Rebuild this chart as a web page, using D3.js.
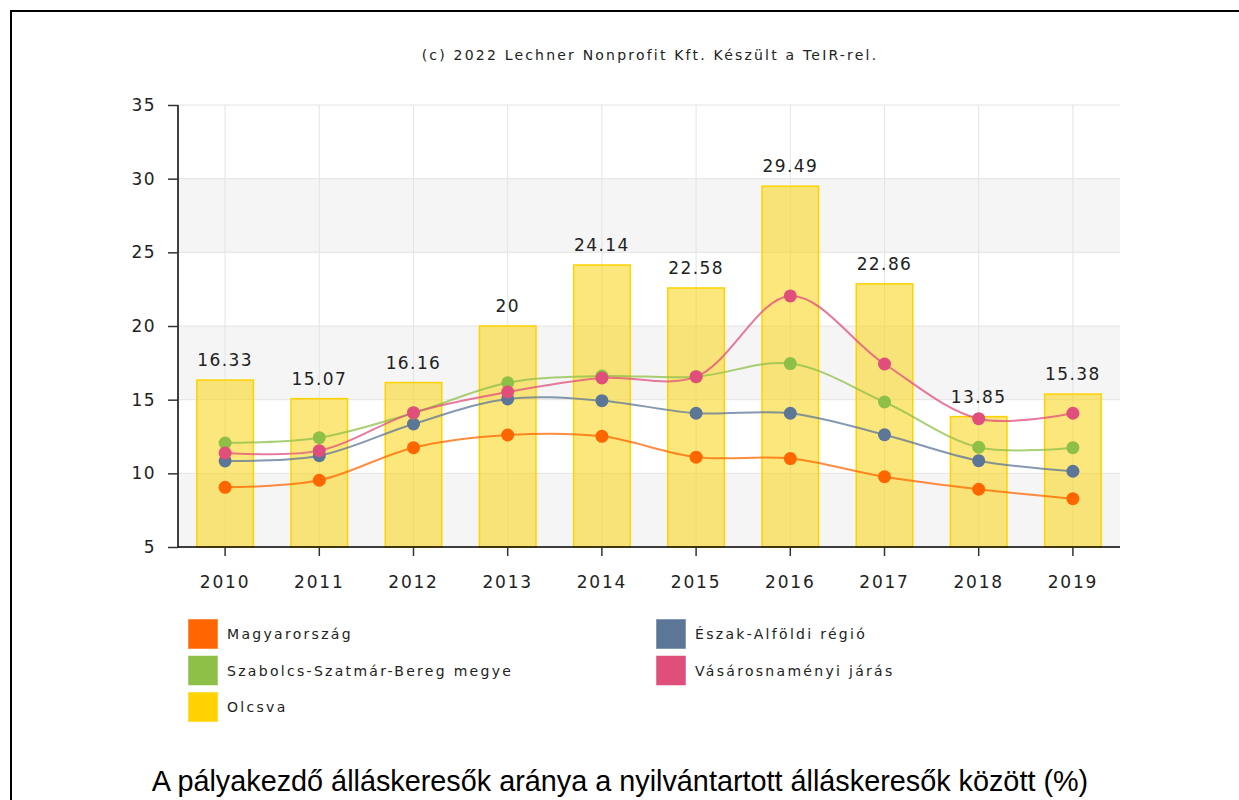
<!DOCTYPE html>
<html>
<head>
<meta charset="utf-8">
<script src="https://cdn.jsdelivr.net/npm/d3@7"></script>
<style>
  body { margin: 0; background: #fff; }
  svg text { fill: #222; }
</style>
</head>
<body>
<div id="chart"></div>
<script>
// values
var years = ["2010", "2011", "2012", "2013", "2014", "2015", "2016", "2017", "2018", "2019"];
var olcsva = [16.33, 15.07, 16.16, 20, 24.14, 22.58, 29.49, 22.86, 13.85, 15.38];
var magyarorszag = [9.05, 9.53, 11.74, 12.6, 12.51, 11.1, 11.0, 9.77, 8.92, 8.28];
var eszakAlfold = [10.84, 11.2, 13.35, 15.05, 14.93, 14.08, 14.08, 12.62, 10.86, 10.14];
var szabolcs = [12.06, 12.42, 14.1, 16.15, 16.6, 16.56, 17.45, 14.84, 11.77, 11.74];
var vasarosnameny = [11.38, 11.54, 14.12, 15.52, 16.47, 16.56, 22.04, 17.42, 13.71, 14.08];
var yTicks = [5, 10, 15, 20, 25, 30, 35];

var lineSeries = [
  { name: "Magyarország", values: magyarorszag, color: "#ff6600" },
  { name: "Észak-Alföldi régió", values: eszakAlfold, color: "#5b7697" },
  { name: "Szabolcs-Szatmár-Bereg megye", values: szabolcs, color: "#8ebf47" },
  { name: "Vásárosnaményi járás", values: vasarosnameny, color: "#e04e7c" }
];
var legendItems = [
  { name: "Magyarország", color: "#ff6600", col: 0, row: 0 },
  { name: "Észak-Alföldi régió", color: "#5b7697", col: 1, row: 0 },
  { name: "Szabolcs-Szatmár-Bereg megye", color: "#8ebf47", col: 0, row: 1 },
  { name: "Vásárosnaményi járás", color: "#e04e7c", col: 1, row: 1 },
  { name: "Olcsva", color: "#ffd200", col: 0, row: 2 }
];

var W = 1239, H = 800;
var plotLeft = 178, plotRight = 1120, plotTop = 105, plotBottom = 547;

var svg = d3.select("#chart").append("svg")
  .attr("width", W)
  .attr("height", H);

// frame
svg.append("path")
  .attr("d", `M11,${H}V11H${W}`)
  .attr("fill", "none")
  .attr("stroke", "#000")
  .attr("stroke-width", 2);

svg.append("text")
  .attr("x", 650)
  .attr("y", 60)
  .attr("text-anchor", "middle")
  .style("font-family", "DejaVu Sans")
  .style("font-size", "14px")
  .style("letter-spacing", "2.2px")
  .text("(c) 2022 Lechner Nonprofit Kft. Készült a TeIR-rel.");

var x = d3.scaleBand().domain(years).range([plotLeft, plotRight]);
var y = d3.scaleLinear().domain([5, 35]).range([plotBottom, plotTop]);

// alternating bands
var g = svg.append("g");
g.selectAll(".band")
  .data(yTicks.slice(0, -1).filter((d, i) => i % 2 == 0))
  .enter().append("rect")
  .attr("x", plotLeft)
  .attr("width", plotRight - plotLeft)
  .attr("y", d => y(d + 5))
  .attr("height", d => y(d) - y(d + 5))
  .attr("fill", "#f5f5f5");

g.selectAll(".hgrid")
  .data(yTicks)
  .enter().append("line")
  .attr("x1", plotLeft).attr("x2", plotRight)
  .attr("y1", d => y(d)).attr("y2", d => y(d))
  .attr("stroke", "#e4e4e4");

g.selectAll(".vgrid")
  .data(years)
  .enter().append("line")
  .attr("x1", d => x(d) + x.bandwidth() / 2)
  .attr("x2", d => x(d) + x.bandwidth() / 2)
  .attr("y1", plotTop).attr("y2", plotBottom)
  .attr("stroke", "#e4e4e4");

// bars
var barW = x.bandwidth() * 0.6;
svg.selectAll(".bar")
  .data(years)
  .enter().append("rect")
  .attr("x", d => x(d) + (x.bandwidth() - barW) / 2)
  .attr("width", barW)
  .attr("y", (d, i) => y(olcsva[i]))
  .attr("height", (d, i) => plotBottom - y(olcsva[i]))
  .attr("fill", "#fad51e")
  .attr("fill-opacity", 0.58)
  .attr("stroke", "#ffd200")
  .attr("stroke-width", 1.5);

svg.selectAll(".barlabel")
  .data(years)
  .enter().append("text")
  .attr("x", d => x(d) + x.bandwidth() / 2)
  .attr("y", (d, i) => y(olcsva[i]) - 14)
  .attr("text-anchor", "middle")
  .style("font-family", "DejaVu Sans")
  .style("font-size", "17px")
  .style("letter-spacing", "1.4px")
  .text((d, i) => olcsva[i]);

// axes
var yAxis = d3.axisLeft(y).tickValues(yTicks).tickSize(10).tickPadding(12);
svg.append("g")
  .attr("transform", `translate(${plotLeft},0)`)
  .call(yAxis)
  .call(a => a.select(".domain").attr("d", `M0,${plotTop}V${plotBottom}`).attr("stroke", "#000").attr("stroke-width", 1.5))
  .call(a => a.selectAll("line").attr("stroke", "#333").attr("stroke-width", 1.5))
  .call(a => a.selectAll("text")
    .style("font-family", "DejaVu Sans")
    .style("font-size", "17px")
    .style("letter-spacing", "1.4px")
    .attr("fill", "#222"));

var xAxis = d3.axisBottom(x).tickSize(9).tickPadding(20);
svg.append("g")
  .attr("transform", `translate(0,${plotBottom})`)
  .call(xAxis)
  .call(a => a.select(".domain").attr("d", `M${plotLeft},0H${plotRight}`).attr("stroke", "#000").attr("stroke-width", 1.5))
  .call(a => a.selectAll("line").attr("stroke", "#333").attr("stroke-width", 1.5))
  .call(a => a.selectAll("text")
    .style("font-family", "DejaVu Sans")
    .style("font-size", "17px")
    .style("letter-spacing", "1.8px")
    .attr("fill", "#222"));

// lines
var line = d3.line()
  .x((d, i) => x(years[i]) + x.bandwidth() / 2)
  .y(d => y(d))
  .curve(d3.curveCatmullRom.alpha(0.5));

lineSeries.forEach(s => {
  var sg = svg.append("g");
  sg.append("path")
    .attr("d", line(s.values))
    .attr("fill", "none")
    .attr("stroke", s.color)
    .attr("stroke-width", 2)
    .attr("stroke-opacity", 0.75);
  sg.selectAll("circle")
    .data(s.values)
    .enter().append("circle")
    .attr("cx", (d, i) => x(years[i]) + x.bandwidth() / 2)
    .attr("cy", d => y(d))
    .attr("r", 6.5)
    .attr("fill", s.color);
});

// legend
var legend = svg.selectAll(".legend")
  .data(legendItems)
  .enter().append("g")
  .attr("transform", d => `translate(${188 + d.col * 468},${619 + d.row * 36.5})`);

legend.append("rect")
  .attr("width", 30).attr("height", 30)
  .attr("fill", d => d.color)
  .attr("stroke", "#fff")
  .attr("stroke-opacity", 0.5);

legend.append("text")
  .attr("x", 39)
  .attr("y", 20)
  .style("font-family", "DejaVu Sans")
  .style("font-size", "14px")
  .style("letter-spacing", "2.3px")
  .text(d => d.name);

svg.append("text")
  .attr("x", 620)
  .attr("y", 791)
  .attr("text-anchor", "middle")
  .style("font-family", "Liberation Sans")
  .style("font-size", "28.8px")
  .style("fill", "#000")
  .text("A pályakezdő álláskeresők aránya a nyilvántartott álláskeresők között (%)");
</script>
</body>
</html>
